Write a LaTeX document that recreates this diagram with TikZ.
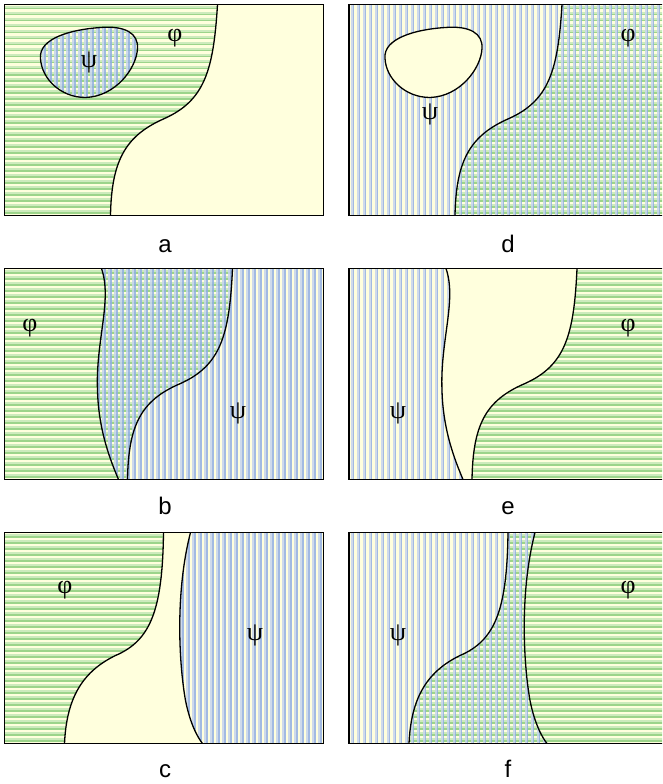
\documentclass[tikz,border=0pt]{standalone}
\usepackage{fontspec}
\setmainfont{Liberation Serif}
\newfontfamily\labfont{Liberation Sans}
\definecolor{bgy}{HTML}{FFFFDD}
\definecolor{grl}{HTML}{CDEBBC}
\definecolor{grd}{HTML}{9CD48A}
\definecolor{bll}{HTML}{C6D4EE}
\definecolor{bld}{HTML}{92AFE4}
\newcommand\Hstripes{\foreach \k in {0,...,35}{\fill[grl] (-2,\k*6+1.5) rectangle (322,\k*6+3.5);\fill[grd] (-2,\k*6+3.5) rectangle (322,\k*6+5);}}
\newcommand\Vstripes{\foreach \k in {0,...,54}{\fill[bll,opacity=0.85] (\k*6+1.5,-2) rectangle (\k*6+3.5,214);\fill[bld,opacity=0.85] (\k*6+3.5,-2) rectangle (\k*6+5,214);}}
\def\curveA{(213,0) .. controls (209,66) and (200,96) .. (160,114) .. controls (121,131) and (107,156) .. (106,211)}
\def\blob{(36,54) .. controls (34,34) and (66,25) .. (96,23) .. controls (121,21) and (134,29) .. (133,44) .. controls (132,64) and (111,92) .. (81,93) .. controls (56,93) and (37,74) .. cycle}
\def\curveBa{(97,0) .. controls (108,32) and (91,72) .. (93,122) .. controls (94,162) and (106,192) .. (114,211)}
\def\curveBb{(228,0) .. controls (225,67) and (216,97) .. (176,115) .. controls (136,132) and (124,157) .. (123,211)}
\def\curveCa{(159,0) .. controls (158,78) and (146,108) .. (111,123) .. controls (76,140) and (62,168) .. (60,211)}
\def\curveCb{(186,0) .. controls (171,58) and (174,128) .. (181,168) .. controls (186,193) and (194,206) .. (198,211)}
\tikzset{
  frame/.style={draw=black,line width=1.6pt},
  bound/.style={draw=black,line width=1.3pt},
  greek/.style={font=\fontsize{26}{28}\selectfont,inner sep=0pt},
  lab/.style={font=\labfont\fontsize{24}{26}\selectfont,inner sep=0pt,anchor=base}
}
\begin{document}
\begin{tikzpicture}[x=1pt,y=-1pt]
\useasboundingbox (0,0) rectangle (662,784);
\clip (0,0) rectangle (662,784);
% panel a
\begin{scope}[shift={(4.5,4.5)}]
  \fill[bgy] (0,0) rectangle (319,211);
  \begin{scope}\clip (0,0) -- \curveA -- (0,211) -- cycle; \Hstripes\end{scope}
  \begin{scope}\clip \blob; \Vstripes\end{scope}
  \draw[bound] \curveA;
  \draw[bound] \blob;
  \draw[frame] (0,0) rectangle (319,211);
\end{scope}
% panel d
\begin{scope}[shift={(349,4.5)}]
  \fill[bgy] (0,0) rectangle (319,211);
  \begin{scope}\clip \curveA -- (319,211) -- (319,0) -- cycle; \Hstripes\end{scope}
  \begin{scope}[even odd rule]\clip (0,0) rectangle (319,211) \blob; \Vstripes\end{scope}
  \draw[bound] \curveA;
  \draw[bound] \blob;
  \draw[frame] (0,0) rectangle (319,211);
\end{scope}
% panel b
\begin{scope}[shift={(4.5,268.5)}]
  \fill[bgy] (0,0) rectangle (319,211);
  \begin{scope}\clip (0,0) -- \curveBb -- (0,211) -- cycle; \Hstripes\end{scope}
  \begin{scope}\clip \curveBa -- (319,211) -- (319,0) -- cycle; \Vstripes\end{scope}
  \draw[bound] \curveBa;
  \draw[bound] \curveBb;
  \draw[frame] (0,0) rectangle (319,211);
\end{scope}
% panel e
\begin{scope}[shift={(349,268.5)}]
  \fill[bgy] (0,0) rectangle (319,211);
  \begin{scope}\clip \curveBb -- (319,211) -- (319,0) -- cycle; \Hstripes\end{scope}
  \begin{scope}\clip (0,0) -- \curveBa -- (0,211) -- cycle; \Vstripes\end{scope}
  \draw[bound] \curveBa;
  \draw[bound] \curveBb;
  \draw[frame] (0,0) rectangle (319,211);
\end{scope}
% panel c
\begin{scope}[shift={(4.5,532.5)}]
  \fill[bgy] (0,0) rectangle (319,211);
  \begin{scope}\clip (0,0) -- \curveCa -- (0,211) -- cycle; \Hstripes\end{scope}
  \begin{scope}\clip \curveCb -- (319,211) -- (319,0) -- cycle; \Vstripes\end{scope}
  \draw[bound] \curveCa;
  \draw[bound] \curveCb;
  \draw[frame] (0,0) rectangle (319,211);
\end{scope}
% panel f
\begin{scope}[shift={(349,532.5)}]
  \fill[bgy] (0,0) rectangle (319,211);
  \begin{scope}\clip \curveCa -- (319,211) -- (319,0) -- cycle; \Hstripes\end{scope}
  \begin{scope}\clip (0,0) -- \curveCb -- (0,211) -- cycle; \Vstripes\end{scope}
  \draw[bound] \curveCa;
  \draw[bound] \curveCb;
  \draw[frame] (0,0) rectangle (319,211);
\end{scope}
% greek letters
\node[greek] (phia) at (175,38) {φ};
\node[greek] (psia) at (89,62) {ψ};
\node[greek] (phid) at (628,38) {φ};
\node[greek] (psid) at (430,114) {ψ};
\node[greek] (phib) at (30,328) {φ};
\node[greek] (psib) at (238,413) {ψ};
\node[greek] (phie) at (628,328) {φ};
\node[greek] (psie) at (398,413) {ψ};
\node[greek] (phic) at (65,590) {φ};
\node[greek] (psic) at (255,635) {ψ};
\node[greek] (phif) at (628,590) {φ};
\node[greek] (psif) at (398,635) {ψ};
% panel labels
\node[lab] (la) at (165,252) {a};
\node[lab] (ld) at (508,252) {d};
\node[lab] (lb) at (165,514) {b};
\node[lab] (le) at (508,514) {e};
\node[lab] (lc) at (165,777) {c};
\node[lab] (lf) at (508,777) {f};
\end{tikzpicture}
\end{document}
